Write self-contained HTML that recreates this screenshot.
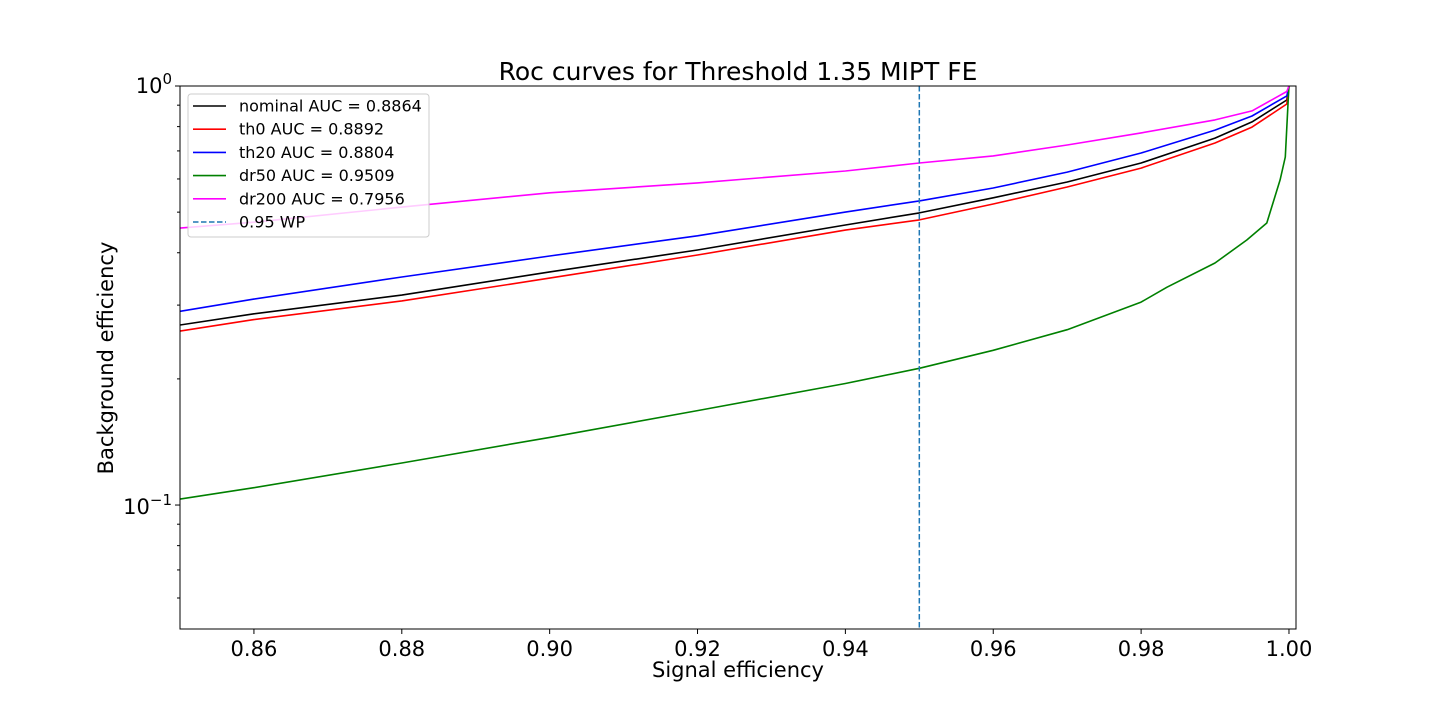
<!DOCTYPE html>
<html><head><meta charset="utf-8"><style>
html,body{margin:0;padding:0;background:#fff;}
svg{display:block;font-family:"DejaVu Sans","Liberation Sans",sans-serif;}
</style></head><body>
<svg id="chart" width="1440" height="720" viewBox="0 0 1440 720">
<text x="738" y="80" font-size="25" text-anchor="middle">Roc curves for Threshold 1.35 MIPT FE</text>
<text x="738" y="677" font-size="21" text-anchor="middle">Signal efficiency</text>
<text transform="translate(113,358) rotate(-90)" font-size="21" text-anchor="middle">Background efficiency</text>
<g id="plot"></g>
</svg>
<script>
const xTicks=[0.86,0.88,0.90,0.92,0.94,0.96,0.98,1.00];
const xTickLabels=["0.86","0.88","0.90","0.92","0.94","0.96","0.98","1.00"];
const sigX=[0.85,0.86,0.88,0.90,0.92,0.94,0.95,0.96,0.97,0.98,0.99,0.995,0.9997,1.0];
const nominalY=[0.269,0.286,0.317,0.360,0.406,0.466,0.498,0.541,0.590,0.655,0.751,0.821,0.926,1.0];
const th0Y=[0.260,0.277,0.307,0.348,0.395,0.453,0.479,0.523,0.574,0.637,0.731,0.798,0.906,1.0];
const th20Y=[0.290,0.310,0.350,0.393,0.439,0.500,0.532,0.571,0.623,0.692,0.785,0.848,0.947,1.0];
const dr200Y=[0.458,0.473,0.514,0.556,0.587,0.627,0.655,0.681,0.723,0.773,0.830,0.872,0.97,1.0];
const dr50X=[0.85,0.86,0.88,0.90,0.92,0.94,0.95,0.96,0.97,0.98,0.9835,0.990,0.9943,0.997,0.9988,0.9995,0.9999,1.0];
const dr50Y=[0.1033,0.110,0.126,0.145,0.168,0.195,0.212,0.234,0.262,0.305,0.331,0.378,0.429,0.471,0.597,0.677,0.926,1.0];
const wp=0.95;
const legendLabels=["nominal AUC = 0.8864","th0 AUC = 0.8892","th20 AUC = 0.8804","dr50 AUC = 0.9509","dr200 AUC = 0.7956","0.95 WP"];

const L=180,R=1296,T=86,B=629,X0=0.85,X1=1.00095,YMIN=0.0506,YMAX=1;
const sx=v=>L+(v-X0)/(X1-X0)*(R-L);
const sy=v=>T+(Math.log10(YMAX)-Math.log10(v))/(Math.log10(YMAX)-Math.log10(YMIN))*(B-T);
const NS="http://www.w3.org/2000/svg";
const g=document.getElementById('plot');
function mk(tag,attrs,parent){const e=document.createElementNS(NS,tag);for(const k in attrs)e.setAttribute(k,attrs[k]);(parent||g).appendChild(e);return e;}

const clip=mk('clipPath',{id:'cp'});mk('rect',{x:L,y:T,width:R-L,height:B-T},clip);

xTicks.forEach((v,i)=>{
 const t=mk('line',{x1:sx(v),x2:sx(v),y1:B,y2:B+5,stroke:'#000','stroke-width':1});
 
 
 const tx=mk('text',{x:sx(v),y:B+27,'font-size':21,'text-anchor':'middle'});
 tx.textContent=xTickLabels[i];
 
 
});
[1,0.1].forEach(v=>{
 const t=mk('line',{x1:L-5,x2:L,y1:sy(v),y2:sy(v),stroke:'#000'});
 
 
});
[0.06,0.07,0.08,0.09,0.2,0.3,0.4,0.5,0.6,0.7,0.8,0.9].forEach(v=>{
 const t=mk('line',{x1:L-3,x2:L,y1:sy(v),y2:sy(v),stroke:'#000'});
 
 
});
const y1=mk('text',{x:L-8,y:sy(1)+7,'font-size':21,'text-anchor':'end'});
y1.innerHTML='10<tspan dy="-9" font-size="15">0</tspan>';


const y2=mk('text',{x:L-8,y:sy(0.1)+9,'font-size':21,'text-anchor':'end'});
y2.innerHTML='10<tspan dy="-9" font-size="15">−1</tspan>';



const series=[[sigX,nominalY,'#000000','nominal-curve'],[sigX,th0Y,'#ff0000','th0-curve'],[sigX,th20Y,'#0000ff','th20-curve'],[dr50X,dr50Y,'#008000','dr50-curve'],[sigX,dr200Y,'#ff00ff','dr200-curve']];
series.forEach(s=>{
 const d=s[0].map((x,i)=>(i?'L':'M')+sx(x).toFixed(1)+','+sy(s[1][i]).toFixed(1)).join('');
 const p=mk('path',{d:d,fill:'none',stroke:s[2],'stroke-width':1.6,'stroke-linejoin':'round','clip-path':'url(#cp)'});
 
 
});
const wl=mk('line',{x1:sx(wp),x2:sx(wp),y1:T,y2:B,stroke:'#1f77b4','stroke-width':1.5,'stroke-dasharray':'5.5,2.5'});



const fr=mk('rect',{x:L,y:T,width:R-L,height:B-T,fill:'none',stroke:'#000','stroke-width':1});



const lg=mk('g',{});


mk('rect',{x:188,y:94,width:241,height:143,rx:3,fill:'#fff','fill-opacity':0.8,stroke:'#ccc'},lg);
const cols=['#000000','#ff0000','#0000ff','#008000','#ff00ff','#1f77b4'];
legendLabels.forEach((lab,i)=>{
 const y=106+i*23.2;
 const e=mk('g',{},lg);
 
 
 const ln={x1:193,x2:226,y1:y,y2:y,stroke:cols[i],'stroke-width':1.6};
 if(i==5)ln['stroke-dasharray']='5.5,2.5';
 mk('line',ln,e);
 const t=mk('text',{x:239,y:y+5.5,'font-size':16},e);
 t.textContent=lab;
});
</script>
</body></html>
